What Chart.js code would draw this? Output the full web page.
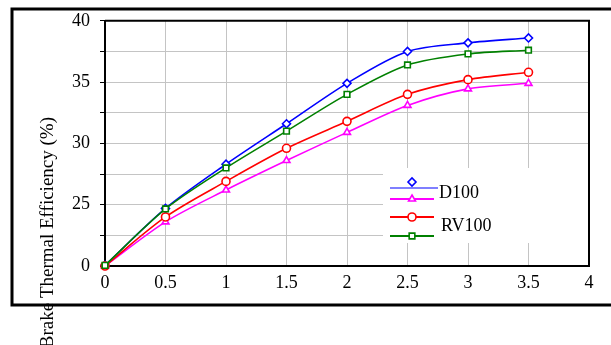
<!DOCTYPE html>
<html>
<head>
<meta charset="utf-8">
<script src="https://cdn.jsdelivr.net/npm/chart.js@4"></script>
<style>
  body { margin: 0; background: #fff; }
  #wrap { width: 611px; height: 345px; }
</style>
</head>
<body>
<div id="wrap"><canvas id="c" width="611" height="345"></canvas></div>
<script>
const loads = [0, 0.5, 1, 1.5, 2, 2.5, 3, 3.5];
const d100 = [20.05, 24.7, 28.3, 31.6, 34.9, 37.5, 38.2, 38.6];
const magentaSeries = [20, 23.6, 26.2, 28.6, 30.9, 33.1, 34.45, 34.9];
const redSeries = [20, 24.0, 26.9, 29.6, 31.8, 34.0, 35.2, 35.8];
const rv100 = [20.05, 24.65, 28.0, 31.0, 34.0, 36.4, 37.3, 37.6];
const seriesNames = ['D100', '', '', 'RV100'];
const yTickLabels = { 20: '0', 25: '25', 30: '30', 35: '35', 40: '40' };

Chart.defaults.font.family = 'Liberation Serif';
Chart.defaults.font.size = 18;
Chart.defaults.color = '#000';

const pts = (ys) => loads.map((x, i) => ({ x: x, y: ys[i] }));

function series(label, ys, color, style, order) {
  return {
    label: label,
    data: pts(ys),
    borderColor: color,
    backgroundColor: '#fff',
    borderWidth: 1.6,
    pointStyle: style,
    pointRadius: 4,
    pointBorderWidth: 1.6,
    pointBorderColor: color,
    pointBackgroundColor: '#fff',
    tension: 0.3,
    clip: false,
    order: order
  };
}

// outer box, plot frame and the legend box
const decor = {
  id: 'decor',
  beforeDraw(chart) {
    const ctx = chart.ctx;
    ctx.save();
    ctx.strokeStyle = '#000';
    ctx.lineWidth = 3;
    ctx.beginPath();
    ctx.moveTo(611, 9); ctx.lineTo(12, 9); ctx.lineTo(12, 305); ctx.lineTo(611, 305);
    ctx.stroke();
    // axis title
    ctx.fillStyle = '#000';
    ctx.font = '19px "Liberation Serif"';
    ctx.translate(53, 117);
    ctx.rotate(-Math.PI / 2);
    ctx.textAlign = 'right';
    ctx.textBaseline = 'alphabetic';
    ctx.fillText('Brake Thermal Efficiency (%)', 0, 0);
    ctx.restore();
  },
  beforeDatasetsDraw(chart) {
    const a = chart.chartArea, ctx = chart.ctx;
    ctx.save();
    ctx.strokeStyle = '#000';
    ctx.lineWidth = 2;
    ctx.beginPath();
    ctx.moveTo(a.left, a.top); ctx.lineTo(a.right, a.top); ctx.lineTo(a.right, a.bottom);
    ctx.stroke();
    ctx.restore();
  },
  afterDraw(chart) {
    const ctx = chart.ctx;
    ctx.save();
    ctx.fillStyle = '#fff';
    ctx.fillRect(383, 168, 205, 75);
    const rows = [
      { ly: 188, my: 182, x2: 438, lw: 1.2 },
      { ly: 199, my: 199, x2: 434, lw: 2 },
      { ly: 217, my: 217, x2: 434, lw: 2 },
      { ly: 236, my: 236, x2: 434, lw: 2 }
    ];
    const textPos = [{ x: 439, y: 193 }, null, null, { x: 441, y: 226 }];
    chart.data.datasets.forEach((ds, i) => {
      const r = rows[i];
      ctx.strokeStyle = ds.borderColor;
      ctx.lineWidth = r.lw;
      ctx.beginPath();
      ctx.moveTo(390, r.ly); ctx.lineTo(r.x2, r.ly);
      ctx.stroke();
      ctx.fillStyle = '#fff';
      ctx.strokeStyle = ds.borderColor;
      ctx.lineWidth = 1.6;
      Chart.helpers.drawPoint(ctx, { pointStyle: ds.pointStyle, radius: 4, borderWidth: 1.6 }, 412, r.my);
      if (ds.label && textPos[i]) {
        ctx.fillStyle = '#000';
        ctx.font = '18px "Liberation Serif"';
        ctx.textAlign = 'left';
        ctx.textBaseline = 'middle';
        ctx.fillText(ds.label, textPos[i].x, textPos[i].y);
      }
    });
    ctx.restore();
  }
};

new Chart(document.getElementById('c'), {
  type: 'line',
  data: {
    datasets: [
      series(seriesNames[0], d100, '#0000ff', 'rectRot', 3),
      series(seriesNames[1], magentaSeries, '#ff00ff', 'triangle', 2),
      series(seriesNames[2], redSeries, '#ff0000', 'circle', 1),
      series(seriesNames[3], rv100, '#008000', 'rect', 0)
    ]
  },
  options: {
    responsive: false,
    animation: false,
    layout: { padding: { top: 20, right: 22, left: 0, bottom: 0 } },
    plugins: { legend: { display: false }, tooltip: { enabled: false } },
    scales: {
      x: {
        type: 'linear',
        min: 0, max: 4,
        afterFit(s) { s.height = 79; },
        ticks: { stepSize: 0.5, padding: 6, maxRotation: 0, callback: (v) => String(Number(v)) },
        grid: { color: '#c4c4c4', lineWidth: 1, drawTicks: false },
        border: { color: '#000', width: 2 }
      },
      y: {
        min: 20, max: 40,
        afterFit(s) { s.width = 105; },
        ticks: {
          stepSize: 2.5, padding: 10, autoSkip: false,
          callback: (v) => yTickLabels[v] !== undefined ? yTickLabels[v] : ''
        },
        grid: { color: '#c4c4c4', lineWidth: 1, tickLength: 5, tickColor: '#000' },
        border: { color: '#000', width: 2 }
      }
    }
  },
  plugins: [decor]
});
</script>
</body>
</html>
